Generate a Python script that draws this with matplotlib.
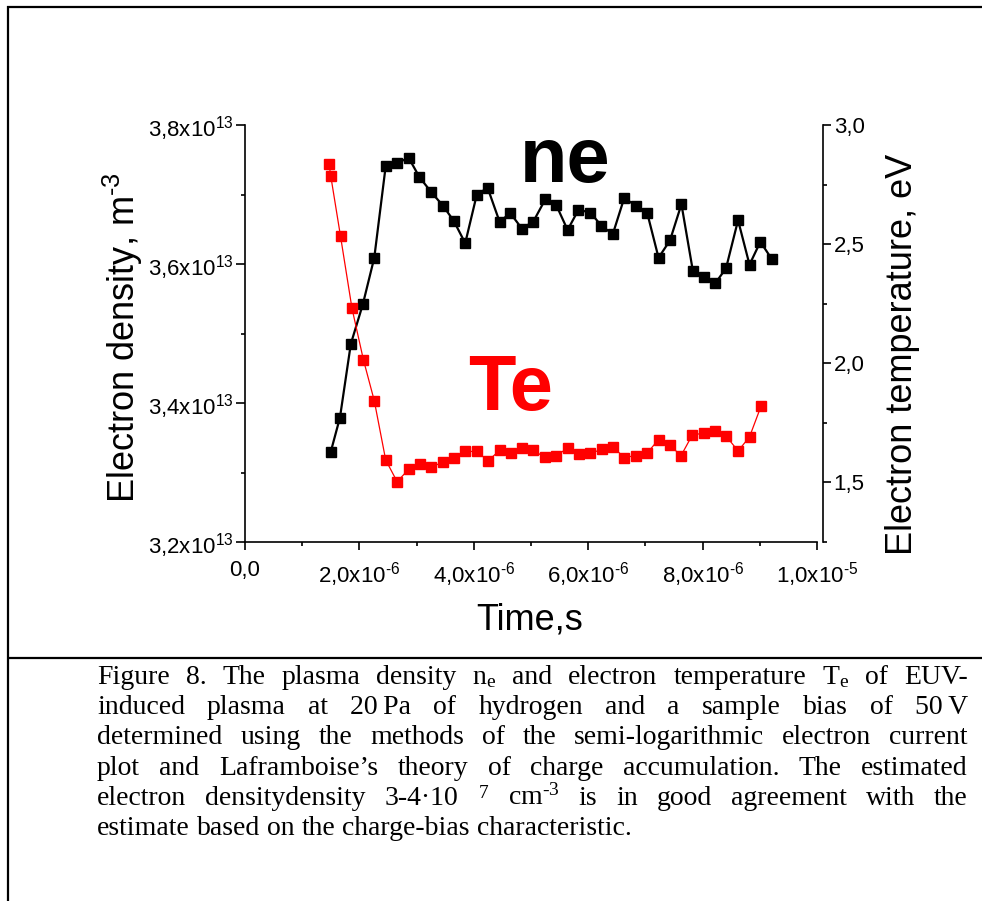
import matplotlib
matplotlib.use('Agg')
import matplotlib.pyplot as plt
from matplotlib.ticker import FixedLocator, FixedFormatter
from matplotlib.lines import Line2D

# ---------------- data ----------------
time_ne_us = [1.50, 1.66, 1.85, 2.06, 2.26, 2.46, 2.66, 2.86, 3.05, 3.26,
              3.46, 3.65, 3.85, 4.05, 4.24, 4.45, 4.64, 4.84, 5.04, 5.25,
              5.44, 5.64, 5.83, 6.04, 6.23, 6.43, 6.63, 6.83, 7.03, 7.23,
              7.43, 7.63, 7.83, 8.02, 8.22, 8.41, 8.62, 8.82, 9.01, 9.21]
ne_1e13 = [3.330, 3.379, 3.485, 3.542, 3.609, 3.741, 3.745, 3.753, 3.725, 3.703,
           3.684, 3.662, 3.630, 3.699, 3.710, 3.661, 3.673, 3.651, 3.661, 3.693,
           3.685, 3.649, 3.678, 3.674, 3.655, 3.643, 3.695, 3.684, 3.674, 3.609,
           3.634, 3.686, 3.590, 3.581, 3.572, 3.594, 3.663, 3.599, 3.632, 3.607]

time_te_us = [1.47, 1.50, 1.67, 1.87, 2.07, 2.26, 2.46, 2.66, 2.86, 3.06,
              3.26, 3.46, 3.65, 3.85, 4.05, 4.25, 4.45, 4.65, 4.84, 5.04,
              5.24, 5.44, 5.64, 5.84, 6.04, 6.24, 6.43, 6.63, 6.83, 7.03,
              7.23, 7.43, 7.62, 7.82, 8.02, 8.22, 8.41, 8.62, 8.82, 9.02]
te_eV = [2.835, 2.785, 2.533, 2.231, 2.015, 1.843, 1.594, 1.503, 1.555, 1.577,
         1.566, 1.584, 1.603, 1.630, 1.630, 1.591, 1.634, 1.623, 1.643, 1.634,
         1.606, 1.612, 1.644, 1.619, 1.622, 1.639, 1.650, 1.604, 1.613, 1.623,
         1.680, 1.658, 1.611, 1.699, 1.707, 1.716, 1.695, 1.632, 1.691, 1.819]

time_s = [t * 1e-6 for t in time_ne_us]
ne_m3 = [v * 1e13 for v in ne_1e13]
time_te_s = [t * 1e-6 for t in time_te_us]

HY = '\u2010'  # plain hyphen, not converted to a long minus by mathtext
x_ticks = [0, 2e-6, 4e-6, 6e-6, 8e-6, 1e-5]
x_minor = [1e-6, 3e-6, 5e-6, 7e-6, 9e-6]
x_ticklabels = ['0,0', r'2,0x10$\mathregular{^{' + HY + '6}}$',
                r'4,0x10$\mathregular{^{' + HY + '6}}$',
                r'6,0x10$\mathregular{^{' + HY + '6}}$',
                r'8,0x10$\mathregular{^{' + HY + '6}}$',
                r'1,0x10$\mathregular{^{' + HY + '5}}$']
ne_ticks = [3.2e13, 3.4e13, 3.6e13, 3.8e13]
ne_minor = [3.3e13, 3.5e13, 3.7e13]
ne_ticklabels = [r'3,2x10$\mathregular{^{13}}$', r'3,4x10$\mathregular{^{13}}$',
                 r'3,6x10$\mathregular{^{13}}$', r'3,8x10$\mathregular{^{13}}$']
te_ticks = [1.5, 2.0, 2.5, 3.0]
te_minor = [1.25, 1.75, 2.25, 2.75]
te_ticklabels = ['1,5', '2,0', '2,5', '3,0']

caption_lines = [
    ['Figure', '8.', 'The', 'plasma', 'density', r'n$\mathregular{_e}$', 'and', 'electron',
     'temperature', r'T$\mathregular{_e}$', 'of', 'EUV-'],
    ['induced', 'plasma', 'at', '20\u2009Pa', 'of', 'hydrogen', 'and', 'a', 'sample', 'bias',
     'of', '50\u2009V'],
    ['determined', 'using', 'the', 'methods', 'of', 'the', 'semi-logarithmic', 'electron',
     'current'],
    ['plot', 'and', 'Laframboise\u2019s', 'theory', 'of', 'charge', 'accumulation.', 'The',
     'estimated'],
    ['electron', 'densitydensity', '3-4\u00b710', r'$\mathregular{^{7}}$',
     r'cm$\mathregular{^{' + HY + '3}}$', 'is', 'in', 'good', 'agreement', 'with', 'the'],
    ['estimate', 'based', 'on', 'the', 'charge-bias', 'characteristic.'],
]

# ---------------- figure ----------------
W, H = 982, 901
SANS = 'Liberation Sans'
SERIF = 'Liberation Serif'
fig = plt.figure(figsize=(W / 100, H / 100), dpi=100)
fig.patch.set_facecolor('white')


def fx(px):
    return px / W


def fy(py):
    return (H - py) / H


ax = fig.add_axes([fx(245), fy(542), (817 - 245) / W, (542 - 125) / H])
ax2 = ax.twinx()

ax.plot(time_s, ne_m3, color='black', lw=1.6, marker='s', ms=6.8,
        mfc='black', mec='black', zorder=3)
ax2.plot(time_te_s, te_eV, color='red', lw=0.9, marker='s', ms=6.8,
         mfc='red', mec='red', zorder=3)

ax.set_xlim(0, 1e-5)
ax.set_ylim(3.2e13, 3.8e13)
ax2.set_ylim(1.25, 3.0)

for a in (ax, ax2):
    a.patch.set_visible(False)
    for s in a.spines.values():
        s.set_linewidth(1.2)
ax.spines['top'].set_visible(False)
ax.spines['right'].set_visible(False)
ax2.spines['top'].set_visible(False)
ax2.spines['left'].set_visible(False)
ax2.spines['bottom'].set_visible(False)
ax2.spines['right'].set_position(('outward', 4))

ax.xaxis.set_major_locator(FixedLocator(x_ticks))
ax.xaxis.set_minor_locator(FixedLocator(x_minor))
ax.xaxis.set_major_formatter(FixedFormatter(x_ticklabels))
ax.yaxis.set_major_locator(FixedLocator(ne_ticks))
ax.yaxis.set_minor_locator(FixedLocator(ne_minor))
ax.yaxis.set_major_formatter(FixedFormatter(ne_ticklabels))
ax2.yaxis.set_major_locator(FixedLocator(te_ticks))
ax2.yaxis.set_minor_locator(FixedLocator(te_minor))
ax2.yaxis.set_major_formatter(FixedFormatter(te_ticklabels))

ax.tick_params(axis='x', which='major', direction='out', length=6, width=1.2, pad=7,
               labelsize=16)
ax.tick_params(axis='x', which='minor', direction='out', length=3, width=1.2)
ax.tick_params(axis='y', which='major', direction='out', length=6.5, width=1.2, pad=1.5,
               labelsize=16)
ax.tick_params(axis='y', which='minor', direction='out', length=3, width=1.2)
ax2.tick_params(axis='y', which='major', direction='out', length=6, width=1.2, pad=2,
                labelsize=16)
ax2.tick_params(axis='y', which='minor', direction='out', length=3, width=1.2)
for lab in ax.get_xticklabels() + ax.get_yticklabels() + ax2.get_yticklabels():
    lab.set_family(SANS)

fig.text(fx(123), fy(338), r'Electron density, m$\mathregular{^{' + HY + '3}}$',
         rotation=90, ha='center', va='center', fontsize=26, family=SANS)
fig.text(fx(903), fy(354), 'Electron temperature, eV', rotation=90,
         ha='center', va='center', fontsize=26, family=SANS)
fig.text(fx(530), fy(620), 'Time,s', ha='center', va='center', fontsize=26, family=SANS)

fig.text(fx(520), fy(182), 'ne', ha='left', va='baseline', fontsize=56,
         fontweight='bold', family=SANS, color='black')
fig.text(fx(468), fy(410), 'Te', ha='left', va='baseline', fontsize=56,
         fontweight='bold', family=SANS, color='red')

# frame lines
border_kw = dict(color='black', lw=1.6, transform=fig.transFigure, solid_capstyle='butt')
fig.add_artist(Line2D([fx(7), fx(W)], [fy(7), fy(7)], **border_kw))
fig.add_artist(Line2D([fx(7.5), fx(7.5)], [fy(6.2), fy(H)], **border_kw))
fig.add_artist(Line2D([fx(7), fx(W)], [fy(657.7), fy(657.7)], **border_kw))

# ---------------- caption (justified) ----------------
renderer = fig.canvas.get_renderer()
cap_fs = 20
x_left, x_right = 97, 968
base0, pitch = 684, 30.2
space_px = 0.25 * cap_fs * 100 / 72
for i, words in enumerate(caption_lines):
    yb = base0 + i * pitch
    texts = [fig.text(0, fy(yb), w, fontsize=cap_fs, family=SERIF, ha='left',
                      va='baseline') for w in words]
    widths = [t.get_window_extent(renderer=renderer).width for t in texts]
    last = (i == len(caption_lines) - 1)
    if last:
        gap = space_px
    else:
        gap = (x_right - x_left - sum(widths)) / (len(words) - 1)
    x = x_left
    for t, w in zip(texts, widths):
        t.set_x(fx(x))
        x += w + gap

fig.savefig('out.png', dpi=100)
